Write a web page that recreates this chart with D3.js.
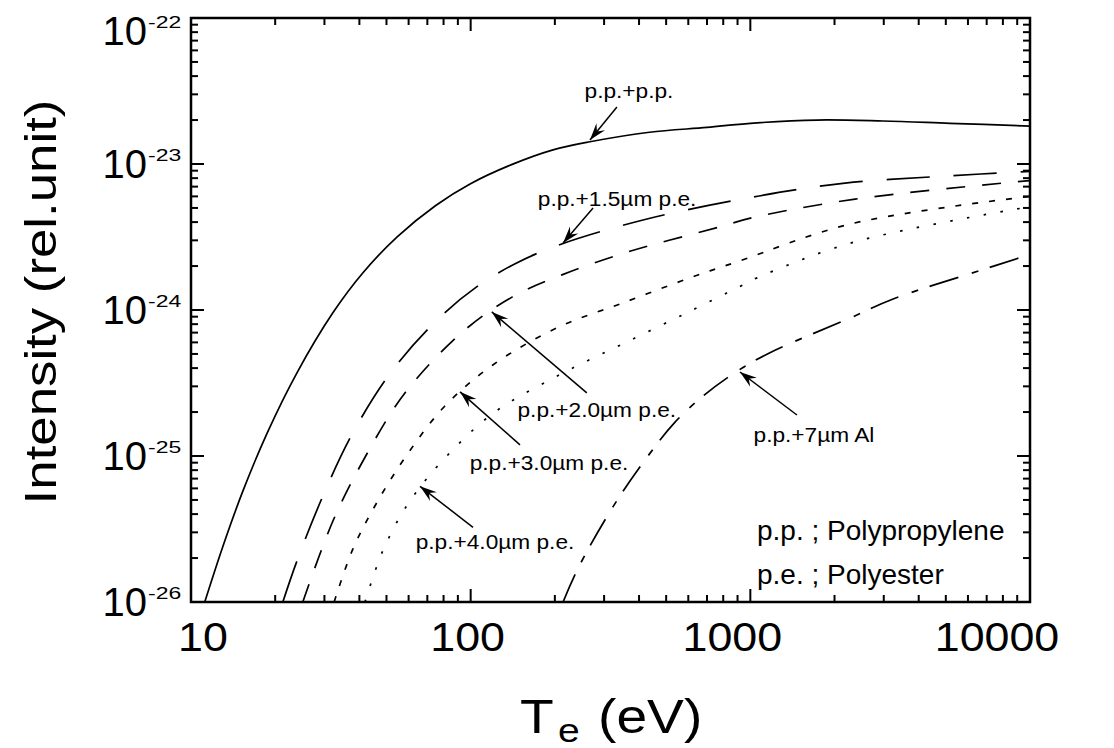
<!DOCTYPE html>
<html><head><meta charset="utf-8">
<script src="https://cdn.jsdelivr.net/npm/d3@7"></script>
<style>
body{margin:0;background:#fff}
svg{display:block}
text{font-family:"Liberation Sans",Arial,Helvetica,sans-serif;fill:#000}
</style>
</head><body>
<svg id="c" width="1114" height="748"></svg>
<script>
// ---------------- data ----------------
const seriesNames = ["p.p.+p.p.", "p.p.+1.5µm p.e.", "p.p.+2.0µm p.e.", "p.p.+3.0µm p.e.", "p.p.+4.0µm p.e.", "p.p.+7µm Al"];

const tePP   = [11.2, 13.0, 15.3, 18.7, 23.9, 32.2, 41.2, 54.6, 75, 99.5, 140, 197, 267, 436, 700, 1000, 1730, 2980, 5170, 10000];
const intPP  = [1.0e-26, 2.4e-26, 5.7e-26, 1.43e-25, 3.7e-25, 9.6e-25, 1.8e-24, 3.17e-24, 5.2e-24, 7.3e-24, 9.9e-24, 1.25e-23, 1.42e-23, 1.65e-23, 1.78e-23, 1.9e-23, 2.0e-23, 1.97e-23, 1.9e-23, 1.82e-23];

const tePE15  = [21.3, 23.9, 29.6, 37.9, 52.7, 77.6, 105, 146, 208, 427, 1000, 2180, 5170, 10000];
const intPE15 = [1e-26, 1.9e-26, 5.3e-26, 1.44e-25, 3.9e-25, 8.9e-25, 1.44e-24, 2.1e-24, 2.8e-24, 4.2e-24, 5.9e-24, 7.4e-24, 8.3e-24, 8.9e-24];

const tePE20  = [25.1, 32.2, 41.9, 58.2, 93.7, 141, 212, 365, 798, 1000, 2370, 10000];
const intPE20 = [1e-26, 3.6e-26, 9.8e-26, 2.7e-25, 7.1e-25, 1.23e-24, 1.74e-24, 2.5e-24, 3.76e-24, 4.26e-24, 5.75e-24, 7.7e-24];

const tePE30  = [32.5, 37.9, 46.2, 59.2, 80.9, 120, 205, 351, 608, 904, 2300, 10000];
const intPE30 = [1e-26, 2.3e-26, 4.8e-26, 1.02e-25, 2.2e-25, 4.2e-25, 7.6e-25, 1.12e-24, 1.66e-24, 2.15e-24, 3.9e-24, 6.0e-24];

const tePE40  = [41.9, 48.5, 60.1, 82.2, 122, 208, 359, 608, 918, 1057, 2350, 10000];
const intPE40 = [1e-26, 2.24e-26, 4.8e-26, 1e-25, 2.0e-25, 3.6e-25, 6.0e-25, 9.8e-25, 1.45e-24, 1.66e-24, 2.92e-24, 5.1e-24];

const teAL7  = [214, 242, 323, 427, 537, 682, 895, 1175, 2270, 3240, 6600, 10000];
const intAL7 = [1e-26, 1.7e-26, 4.5e-26, 9.8e-26, 1.7e-25, 2.6e-25, 3.8e-25, 5.1e-25, 8.8e-25, 1.19e-24, 1.86e-24, 2.4e-24];

const xTickValues = [10, 100, 1000, 10000];
const xTickLabels = ["10", "100", "1000", "10000"];
const yTickExponents = [-22, -23, -24, -25, -26];

// annotation: where each arrow points (data coords)
const annTipTe  = [267, 214, 119, 91.6, 65.9, 918];
const annTipInt = [1.46e-23, 2.88e-24, 9.7e-25, 2.75e-25, 6.2e-26, 3.76e-25];

const legendLines = ["p.p. ; Polypropylene", "p.e. ; Polyester"];

// ---------------- layout / style ----------------
const plot = {l: 191, r: 1030, t: 18, b: 602};
const series = [
  {te: tePP,   v: intPP,   dash: null},
  {te: tePE15, v: intPE15, dash: "43,24"},
  {te: tePE20, v: intPE20, dash: "19,17"},
  {te: tePE30, v: intPE30, dash: "6,11"},
  {te: tePE40, v: intPE40, dash: "2.5,14.5"},
  {te: teAL7,  v: intAL7,  dash: "30,14,7,12"}
];
// pixel offsets (tail of arrow, label centre) relative to tip
const annLayout = [
  {tail: [27, -33], label: [39, -42]},
  {tail: [30, -35], label: [54, -37]},
  {tail: [95, 81],  label: [105, 105]},
  {tail: [60, 53],  label: [89, 78]},
  {tail: [53, 41],  label: [75, 63]},
  {tail: [57, 43],  label: [74, 70]}
];

const svg = d3.select("#c");
const x = d3.scaleLog().domain([10, 10000]).range([plot.l, plot.r]);
const y = d3.scaleLog().domain([1e-26, 1e-22]).range([plot.b, plot.t]);
const xLab = d3.scaleLog().domain([10, 10000]).range([203, 997]);

function stext(g, px, py, str, size, anchor, sx, rot) {
  return g.append("text")
    .attr("transform", `translate(${px},${py})` + (rot ? ` rotate(${rot})` : "") + ` scale(${sx},1)`)
    .attr("text-anchor", anchor)
    .style("font-size", size + "px")
    .text(str);
}

// clip
svg.append("defs").append("clipPath").attr("id", "clip")
  .append("rect").attr("x", plot.l).attr("y", plot.t)
  .attr("width", plot.r - plot.l).attr("height", plot.b - plot.t);

// curves
const line = d3.line().x(d => x(d[0])).y(d => y(d[1])).curve(d3.curveCatmullRom.alpha(0.5));
const cg = svg.append("g").attr("clip-path", "url(#clip)");
series.forEach(s => {
  const pts = s.te.map((t, i) => [t, s.v[i]]);
  cg.append("path").attr("d", line(pts))
    .attr("fill", "none").attr("stroke", "#000").attr("stroke-width", 1.7)
    .attr("stroke-dasharray", s.dash);
});

// ticks (inward, all four sides)
const tg = svg.append("g").attr("stroke", "#000").attr("stroke-width", 2);
const xMinor = [], yMinor = [];
for (let d = 10; d < 10000; d *= 10) for (let k = 2; k <= 9; k++) xMinor.push(d * k);
for (let e = -26; e < -22; e++) for (let k = 2; k <= 9; k++) yMinor.push(k * Math.pow(10, e));
const yMajor = yTickExponents.map(e => Math.pow(10, e));
function tickX(v, len) {
  tg.append("line").attr("x1", x(v)).attr("x2", x(v)).attr("y1", plot.b).attr("y2", plot.b - len);
  tg.append("line").attr("x1", x(v)).attr("x2", x(v)).attr("y1", plot.t).attr("y2", plot.t + len);
}
function tickY(v, len) {
  tg.append("line").attr("y1", y(v)).attr("y2", y(v)).attr("x1", plot.l).attr("x2", plot.l + len);
  tg.append("line").attr("y1", y(v)).attr("y2", y(v)).attr("x1", plot.r).attr("x2", plot.r - len);
}
xTickValues.forEach(v => tickX(v, 13));
xMinor.forEach(v => tickX(v, 7));
yMajor.forEach(v => tickY(v, 13));
yMinor.forEach(v => tickY(v, 7));

// frame
svg.append("rect").attr("x", plot.l).attr("y", plot.t)
  .attr("width", plot.r - plot.l).attr("height", plot.b - plot.t)
  .attr("fill", "none").attr("stroke", "#000").attr("stroke-width", 2.5);

// x tick labels
const lg = svg.append("g");
xTickValues.forEach((v, i) => stext(lg, xLab(v), 651, xTickLabels[i], 40, "middle", 1.12));

// y tick labels 10^e
yTickExponents.forEach(e => {
  const ty = y(Math.pow(10, e));
  const base = Math.max(ty + 14, 45);
  stext(lg, 147, base, "10", 40, "end", 1.0);
  stext(lg, 148, base - 17, String(e), 17, "start", 1.35);
});

// axis titles
stext(lg, 56, 302, "Intensity (rel.unit)", 44, "middle", 1.2, -90);
stext(lg, 520, 733, "T", 48, "start", 1.15);
stext(lg, 558, 742, "e", 34, "start", 1.15);
stext(lg, 598, 733, "(eV)", 48, "start", 1.15);

// annotations
const ag = svg.append("g");
seriesNames.forEach((name, i) => {
  const tx = x(annTipTe[i]), ty = y(annTipInt[i]);
  const L = annLayout[i];
  const sx0 = tx + L.tail[0], sy0 = ty + L.tail[1];
  ag.append("line").attr("x1", sx0).attr("y1", sy0).attr("x2", tx).attr("y2", ty)
    .attr("stroke", "#000").attr("stroke-width", 1.5);
  const dx = tx - sx0, dy = ty - sy0, len = Math.hypot(dx, dy);
  const ux = dx / len, uy = dy / len, nx = -uy, ny = ux;
  const AL = 17, AW = 5.5;
  const p = [
    [tx, ty],
    [tx - AL * ux + AW * nx, ty - AL * uy + AW * ny],
    [tx - 0.65 * AL * ux, ty - 0.65 * AL * uy],
    [tx - AL * ux - AW * nx, ty - AL * uy - AW * ny]
  ];
  ag.append("path").attr("d", "M" + p.map(q => q.join(",")).join("L") + "Z").attr("fill", "#000");
  stext(ag, tx + L.label[0], ty + L.label[1], name, 21, "middle", 1.08);
});

// legend text
legendLines.forEach((t, i) => stext(lg, 757, 540 + i * 44, t, 28, "start", 1.0));
</script>
</body></html>
